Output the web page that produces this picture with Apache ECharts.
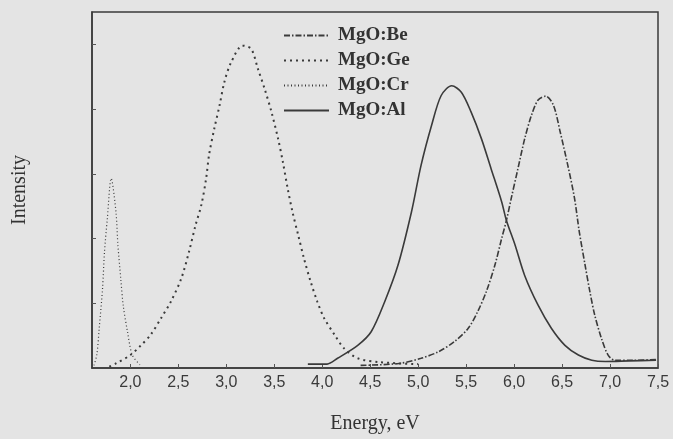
<!DOCTYPE html>
<html>
<head>
<meta charset="utf-8">
<script src="https://cdn.jsdelivr.net/npm/echarts@6/dist/echarts.min.js"></script>
<style>
html,body{margin:0;padding:0;background:#e4e4e4;}
#c{width:673px;height:439px;}
</style>
</head>
<body>
<div id="c"></div>
<script>
// Data (x: energy in eV, y: intensity in tick units)
const seriesNames = ['MgO:Be', 'MgO:Ge', 'MgO:Cr', 'MgO:Al'];
const xTickValues = [2.0, 2.5, 3.0, 3.5, 4.0, 4.5, 5.0, 5.5, 6.0, 6.5, 7.0, 7.5];
const yTickValues = [1, 2, 3, 4, 5];

const beData = [
  [4.40,0.04],[4.80,0.07],[5.03,0.15],[5.21,0.25],[5.38,0.41],[5.52,0.61],[5.62,0.87],
  [5.71,1.18],[5.80,1.59],[5.87,2.00],[5.92,2.28],[5.97,2.62],[6.04,3.08],[6.11,3.54],
  [6.18,3.90],[6.25,4.14],[6.33,4.20],[6.41,4.06],[6.48,3.65],[6.56,3.13],[6.63,2.62],
  [6.68,2.10],[6.74,1.59],[6.79,1.18],[6.84,0.82],[6.91,0.46],[6.98,0.20],[7.05,0.12],
  [7.25,0.12],[7.48,0.13]
];
const geData = [
  [1.78,0.02],[1.85,0.07],[2.00,0.20],[2.11,0.35],[2.21,0.51],[2.32,0.77],[2.42,1.02],
  [2.53,1.38],[2.61,1.79],[2.68,2.21],[2.74,2.52],[2.79,2.93],[2.82,3.29],[2.875,3.70],
  [2.93,4.06],[2.98,4.42],[3.05,4.72],[3.17,4.98],[3.26,4.93],[3.33,4.62],[3.40,4.31],
  [3.47,3.96],[3.54,3.54],[3.59,3.18],[3.64,2.77],[3.69,2.41],[3.75,2.05],[3.81,1.69],
  [3.88,1.33],[3.95,1.02],[4.02,0.77],[4.13,0.51],[4.23,0.30],[4.37,0.15],[4.60,0.09],
  [5.00,0.06]
];
const crData = [
  [1.62,0.04],[1.65,0.20],[1.675,0.61],[1.71,1.23],[1.73,1.79],[1.76,2.31],[1.80,2.93],
  [1.85,2.41],[1.87,1.90],[1.90,1.38],[1.925,0.97],[1.97,0.56],[2.02,0.20],[2.10,0.05]
];
const alData = [
  [3.85,0.06],[4.05,0.06],[4.16,0.15],[4.37,0.35],[4.51,0.56],[4.65,1.02],[4.79,1.59],
  [4.93,2.41],[5.03,3.13],[5.14,3.75],[5.24,4.21],[5.35,4.36],[5.45,4.26],[5.55,3.96],
  [5.66,3.54],[5.76,3.08],[5.87,2.57],[5.92,2.28],[6.01,1.90],[6.11,1.43],[6.25,0.97],
  [6.39,0.61],[6.53,0.35],[6.67,0.20],[6.81,0.12],[6.95,0.10],[7.20,0.11],[7.48,0.12]
];

const lineColor = '#3a3a3a';
const chart = echarts.init(document.getElementById('c'), null, {renderer: 'canvas'});
function mk(name, data, type, width, smooth) {
  return {
    name: name, type: 'line', data: data, symbol: 'none', smooth: smooth,
    lineStyle: {color: lineColor, width: width, type: type},
    itemStyle: {color: lineColor},
    z: 3
  };
}
chart.setOption({
  backgroundColor: '#e4e4e4',
  animation: false,
  grid: {left: 92, right: 15, top: 12, bottom: 71, show: true, borderColor: '#3a3a3a', borderWidth: 1.5, backgroundColor: 'transparent'},
  legend: {
    orient: 'vertical', left: 283, top: 26, padding: 0,
    itemWidth: 45, itemHeight: 12, itemGap: 6,
    itemStyle: {opacity: 0},
    textStyle: {fontFamily: 'Liberation Serif', fontSize: 19, fontWeight: 'bold', color: '#333', padding: [0,0,0,4]},
    data: seriesNames
  },
  xAxis: {
    type: 'value', min: 1.6, max: 7.5,
    name: 'Energy, eV', nameLocation: 'middle', nameGap: 46,
    nameTextStyle: {fontFamily: 'Liberation Serif', fontSize: 20, color: '#333'},
    axisLine: {show: true, lineStyle: {color: '#3a3a3a', width: 1.5}},
    axisTick: {show: true, inside: true, length: 4, customValues: xTickValues, lineStyle: {color: '#555'}},
    axisLabel: {
      customValues: xTickValues, margin: 7,
      fontFamily: 'Liberation Sans', fontSize: 16, color: '#3a3a3a',
      formatter: function (v) { return v.toFixed(1).replace('.', ','); }
    },
    splitLine: {show: false}
  },
  yAxis: {
    type: 'value', min: 0, max: 5.5,
    name: 'Intensity', nameLocation: 'middle', nameGap: 62,
    nameTextStyle: {fontFamily: 'Liberation Serif', fontSize: 20, color: '#333'},
    axisLine: {show: true, lineStyle: {color: '#3a3a3a', width: 1.5}},
    axisTick: {show: true, inside: true, length: 4, customValues: yTickValues, lineStyle: {color: '#555'}},
    axisLabel: {show: false},
    splitLine: {show: false}
  },
  series: [
    mk('MgO:Be', beData, [6, 2, 1.5, 2], 1.6, 0.3),
    mk('MgO:Ge', geData, [2, 4], 2, 0.3),
    mk('MgO:Cr', crData, [1, 2.5], 1.2, 0.3),
    mk('MgO:Al', alData, 'solid', 1.6, 0.3)
  ]
});
</script>
</body>
</html>
